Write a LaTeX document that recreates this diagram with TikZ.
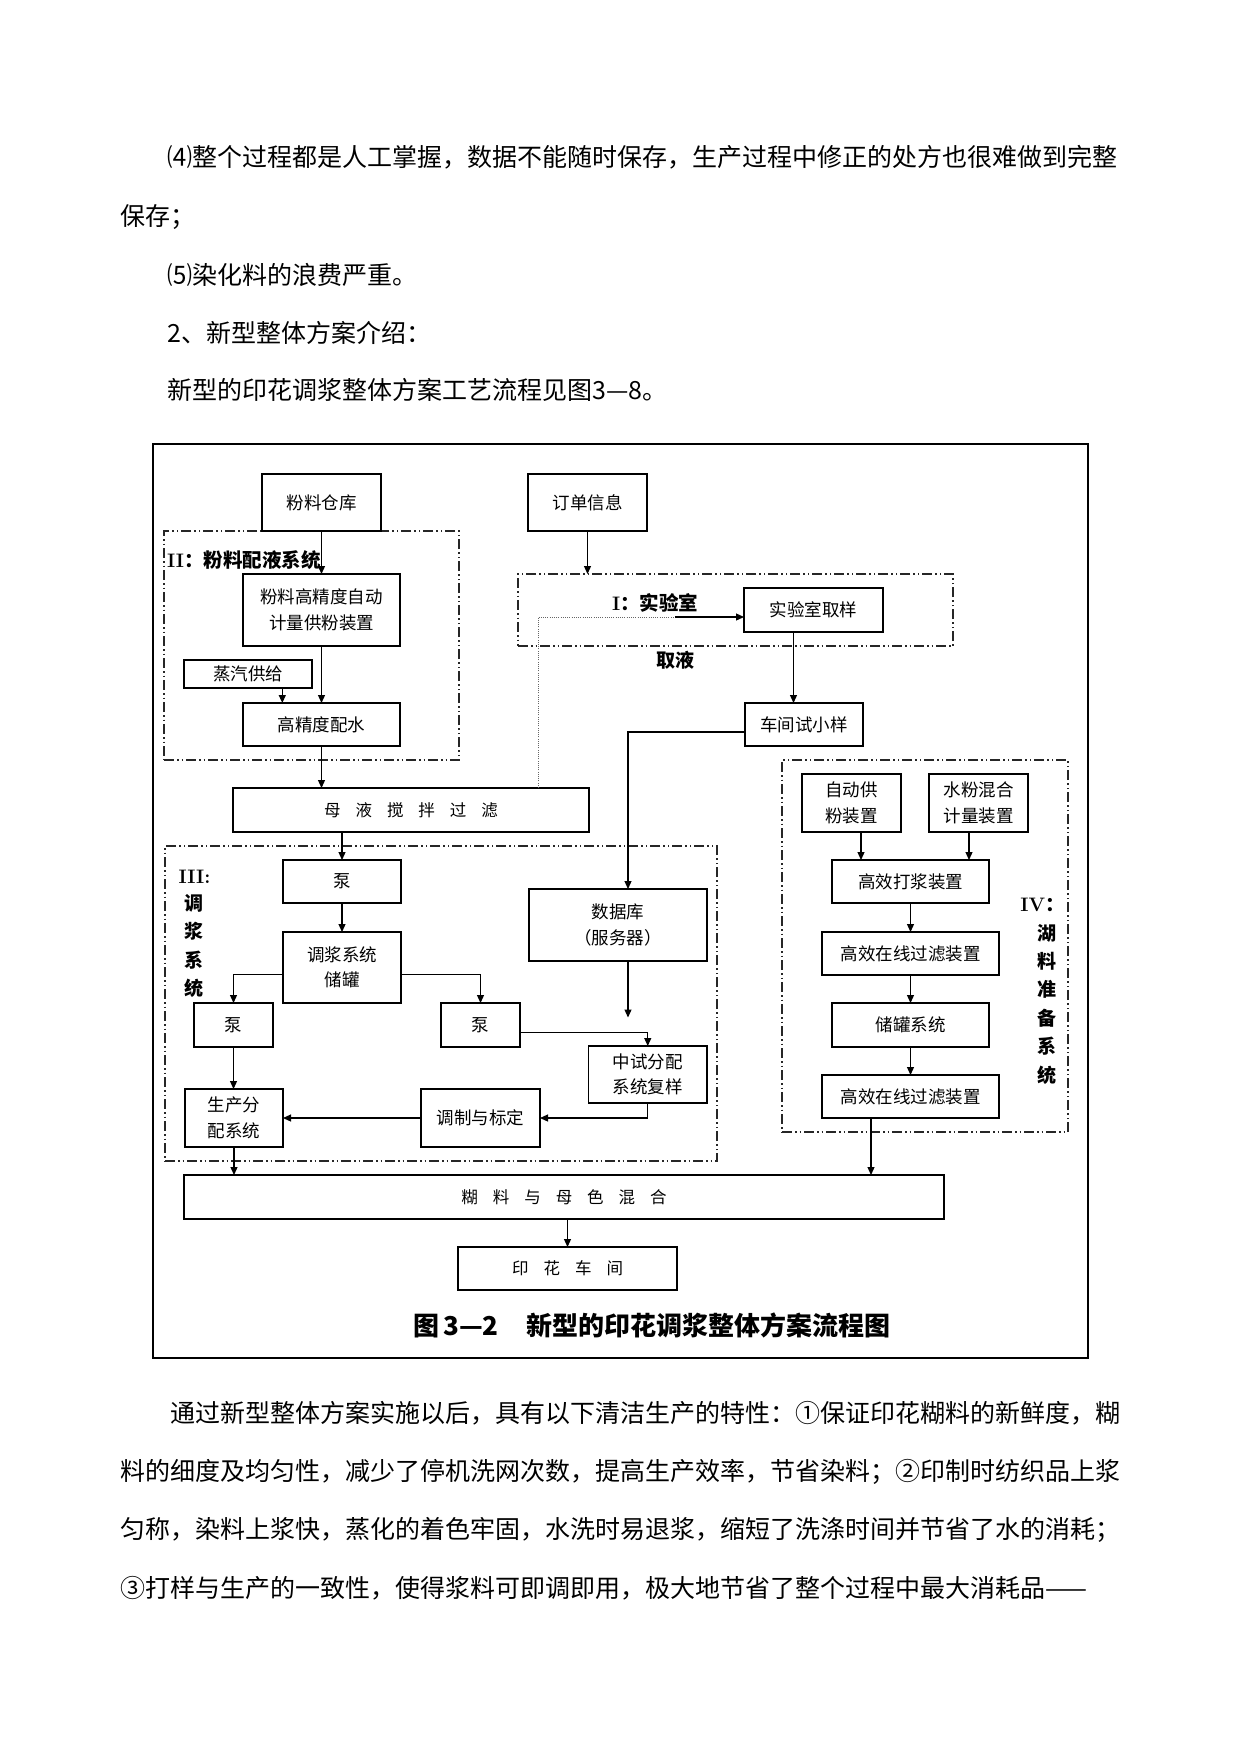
\documentclass[tikz,border=0pt]{standalone}
\usepackage{fontspec}
\newfontfamily\cjk{Noto Sans CJK SC}
\usetikzlibrary{arrows.meta,calc}
\newcommand\gp{\hspace{15pt}}
\begin{document}
\begin{tikzpicture}[x=1pt,y=-1pt,
  box/.style={draw, line width=1.3pt, inner sep=0pt, outer sep=0pt, align=center,
    font=\cjk\fontsize{17.5}{25.5}\selectfont},
  grp/.style={draw=black!85, line width=1.2pt, inner sep=0pt, outer sep=0pt,
    dash pattern=on 10pt off 3pt on 1.5pt off 3pt on 1.5pt off 3pt},
  arr/.style={line width=1.2pt, -{Triangle[length=8pt,width=7pt]}},
  ln/.style={line width=1.2pt},
  dotl/.style={line width=0.9pt, black!60, dash pattern=on 1pt off 1.2pt},
  body/.style={anchor=west, inner sep=0pt, font=\cjk\fontsize{25}{25}\selectfont},
  lab/.style={inner sep=0pt, align=center, font=\cjk\bfseries\fontsize{19}{28.4}\selectfont}
]
\useasboundingbox (0,0) rectangle (1241,1754);
\fill[white] (0,0) rectangle (1241,1754);

% ---- body text above ----
\node[body] (t1) at (167,157) {⑷整个过程都是人工掌握，数据不能随时保存，生产过程中修正的处方也很难做到完整};
\node[body] (t2) at (120,217) {保存；};
\node[body] (t3) at (167,275) {⑸染化料的浪费严重。};
\node[body] (t4) at (167,333) {2、新型整体方案介绍：};
\node[body] (t5) at (167,390) {新型的印花调浆整体方案工艺流程见图3—8。};

% ---- frame ----
\draw[line width=2.6pt] (153,444) rectangle (1088,1358);

% ---- groups ----
\node[grp, minimum width=295pt, minimum height=229pt] (g2) at (311.5,645.5) {};
\node[grp, minimum width=435pt, minimum height=72pt] (g1) at (735.5,610) {};
\node[grp, minimum width=552pt, minimum height=315pt] (g3) at (441,1003.5) {};
\node[grp, minimum width=286pt, minimum height=372pt] (g4) at (925,946) {};

% ---- group labels ----
\node[anchor=west, inner sep=0pt] (l2) at (167,560) {{\bfseries\fontsize{19.5}{20}\selectfont II}{\cjk\bfseries\fontsize{19.5}{20}\selectfont ：粉料配液系统}};
\node[anchor=west, inner sep=0pt] (l1) at (612,603) {{\bfseries\fontsize{19.5}{20}\selectfont I}{\cjk\bfseries\fontsize{19.5}{20}\selectfont ：实验室}};
\node[lab] (ly) at (675.5,660) {取液};
\node[inner sep=0pt] (l3) at (194.5,877) {\bfseries\fontsize{19.5}{20}\selectfont III:};
\node[lab] (l3v) at (193.5,946) {调\\浆\\系\\统};
\node[inner sep=0pt] (l4) at (1042.5,905) {{\bfseries\fontsize{19.5}{20}\selectfont IV}{\cjk\bfseries\fontsize{19.5}{20}\selectfont ：}};
\node[lab] (l4v) at (1047,1004) {湖\\料\\准\\备\\系\\统};

% ---- boxes ----
\node[box, minimum width=119pt, minimum height=57pt] (fl) at (321.5,502.5) {粉料仓库};
\node[box, minimum width=119pt, minimum height=57pt] (dd) at (587.5,502.5) {订单信息};
\node[box, minimum width=157pt, minimum height=72pt] (gz) at (321.5,610) {粉料高精度自动\\计量供粉装置};
\node[box, minimum width=128pt, minimum height=28pt] (zq) at (248,674) {蒸汽供给};
\node[box, minimum width=157pt, minimum height=43pt] (ps) at (321.5,724.5) {高精度配水};
\node[box, minimum width=139pt, minimum height=44pt] (sy) at (813.5,610) {实验室取样};
\node[box, minimum width=118pt, minimum height=43pt] (cj) at (804,724.5) {车间试小样};
\node[box, minimum width=356pt, minimum height=44pt, font=\cjk\fontsize{16.5}{20}\selectfont] (my) at (411,810) {母\gp 液\gp 搅\gp 拌\gp 过\gp 滤};
\node[box, minimum width=118pt, minimum height=43pt] (b1) at (342,881.5) {泵};
\node[box, minimum width=118pt, minimum height=71pt] (cg) at (342,967.5) {调浆系统\\储罐};
\node[box, minimum width=79pt, minimum height=44pt] (bl) at (233.5,1025) {泵};
\node[box, minimum width=79pt, minimum height=44pt] (br) at (480.5,1025) {泵};
\node[box, minimum width=178pt, minimum height=72pt] (db) at (618,925) {数据库\\（服务器）};
\node[box, minimum width=118.5pt, minimum height=57pt] (zs) at (647.75,1074.5) {中试分配\\系统复样};
\node[box, minimum width=119pt, minimum height=58pt] (tz) at (480.5,1118) {调制与标定};
\node[box, minimum width=98pt, minimum height=58pt] (sc) at (234,1118) {生产分\\配系统};
\node[box, minimum width=99pt, minimum height=58pt] (zd) at (851.5,803) {自动供\\粉装置};
\node[box, minimum width=99pt, minimum height=58pt] (sf) at (978.5,803) {水粉混合\\计量装置};
\node[box, minimum width=157pt, minimum height=43pt] (dj) at (910.5,881.5) {高效打浆装置};
\node[box, minimum width=177pt, minimum height=43pt] (gl1) at (910.5,953.5) {高效在线过滤装置};
\node[box, minimum width=157pt, minimum height=44pt] (cx) at (910.5,1025) {储罐系统};
\node[box, minimum width=177pt, minimum height=43pt] (gl2) at (910.5,1096.5) {高效在线过滤装置};
\node[box, minimum width=760pt, minimum height=44pt, font=\cjk\fontsize{16.5}{20}\selectfont] (hl) at (564,1197) {糊\gp 料\gp 与\gp 母\gp 色\gp 混\gp 合};
\node[box, minimum width=219pt, minimum height=43pt, font=\cjk\fontsize{16.5}{20}\selectfont] (yh) at (567.5,1268.5) {印\gp 花\gp 车\gp 间};

% ---- caption ----
\node[anchor=west, inner sep=0pt, font=\cjk\bfseries\fontsize{26}{26}\selectfont] (cap) at (413,1325) {图\hspace{4pt}3—2\hspace{28pt}新型的印花调浆整体方案流程图};

% ---- connectors ----
\draw[arr] (fl.south) -- (gz.north);
\draw[arr] (dd.south) -- (dd.south |- g1.north);
\draw[arr] (gz.south) -- (ps.north);
\draw[arr] ([xshift=34.3pt]zq.south) -- ([xshift=34.3pt]zq.south |- ps.north);
\draw[arr] (ps.south) -- (ps.south |- my.north);
\coordinate (dl) at (538,617);
\coordinate (dm) at (675,617);
\draw[dotl] (dl |- my.north) -- (dl) -- (dm);
\draw[arr] (dm) -- (dm -| sy.west);
\draw[arr] ([xshift=-20pt]sy.south) -- ([xshift=-20pt]sy.south |- cj.north);
\draw[arr] ([yshift=-7.5pt]cj.west) -| ([xshift=10pt]db.north);
\draw[arr] (b1.north |- my.south) -- (b1.north);
\draw[arr] (b1.south) -- (cg.north);
\draw[arr] ([yshift=-7pt]cg.west) -| (bl.north);
\draw[arr] ([yshift=-7pt]cg.east) -| (br.north);
\draw[arr] (bl.south) -- (bl.south |- sc.north);
\coordinate (jn) at (628,1017.5);
\draw[arr] ([xshift=10pt]db.south) -- ([xshift=10pt]db.south |- jn);
\draw[arr] ([yshift=-7.5pt]br.east) -| (zs.north);
\draw[arr] (zs.south) |- (tz.east);
\draw[arr] (tz.west) -- (sc.east);
\draw[arr] (sc.south) -- (sc.south |- hl.north);
\draw[arr] ([xshift=9.5pt]zd.south) -- ([xshift=9.5pt]zd.south |- dj.north);
\draw[arr] ([xshift=-9.5pt]sf.south) -- ([xshift=-9.5pt]sf.south |- dj.north);
\draw[arr] (dj.south) -- (gl1.north);
\draw[arr] (gl1.south) -- (cx.north);
\draw[arr] (cx.south) -- (gl2.north);
\draw[arr] ([xshift=-39.5pt]gl2.south) -- ([xshift=-39.5pt]gl2.south |- hl.north);
\draw[arr] (yh.north |- hl.south) -- (yh.north);

% ---- body text below ----
\node[body] (t6) at (170,1413) {通过新型整体方案实施以后，具有以下清洁生产的特性：①保证印花糊料的新鲜度，糊};
\node[body] (t7) at (120,1472) {料的细度及均匀性，减少了停机洗网次数，提高生产效率，节省染料；②印制时纺织品上浆};
\node[body] (t8) at (120,1530) {匀称，染料上浆快，蒸化的着色牢固，水洗时易退浆，缩短了洗涤时间并节省了水的消耗；};
\node[body] (t9) at (120,1588) {③打样与生产的一致性，使得浆料可即调即用，极大地节省了整个过程中最大消耗品——};
\end{tikzpicture}
\end{document}
